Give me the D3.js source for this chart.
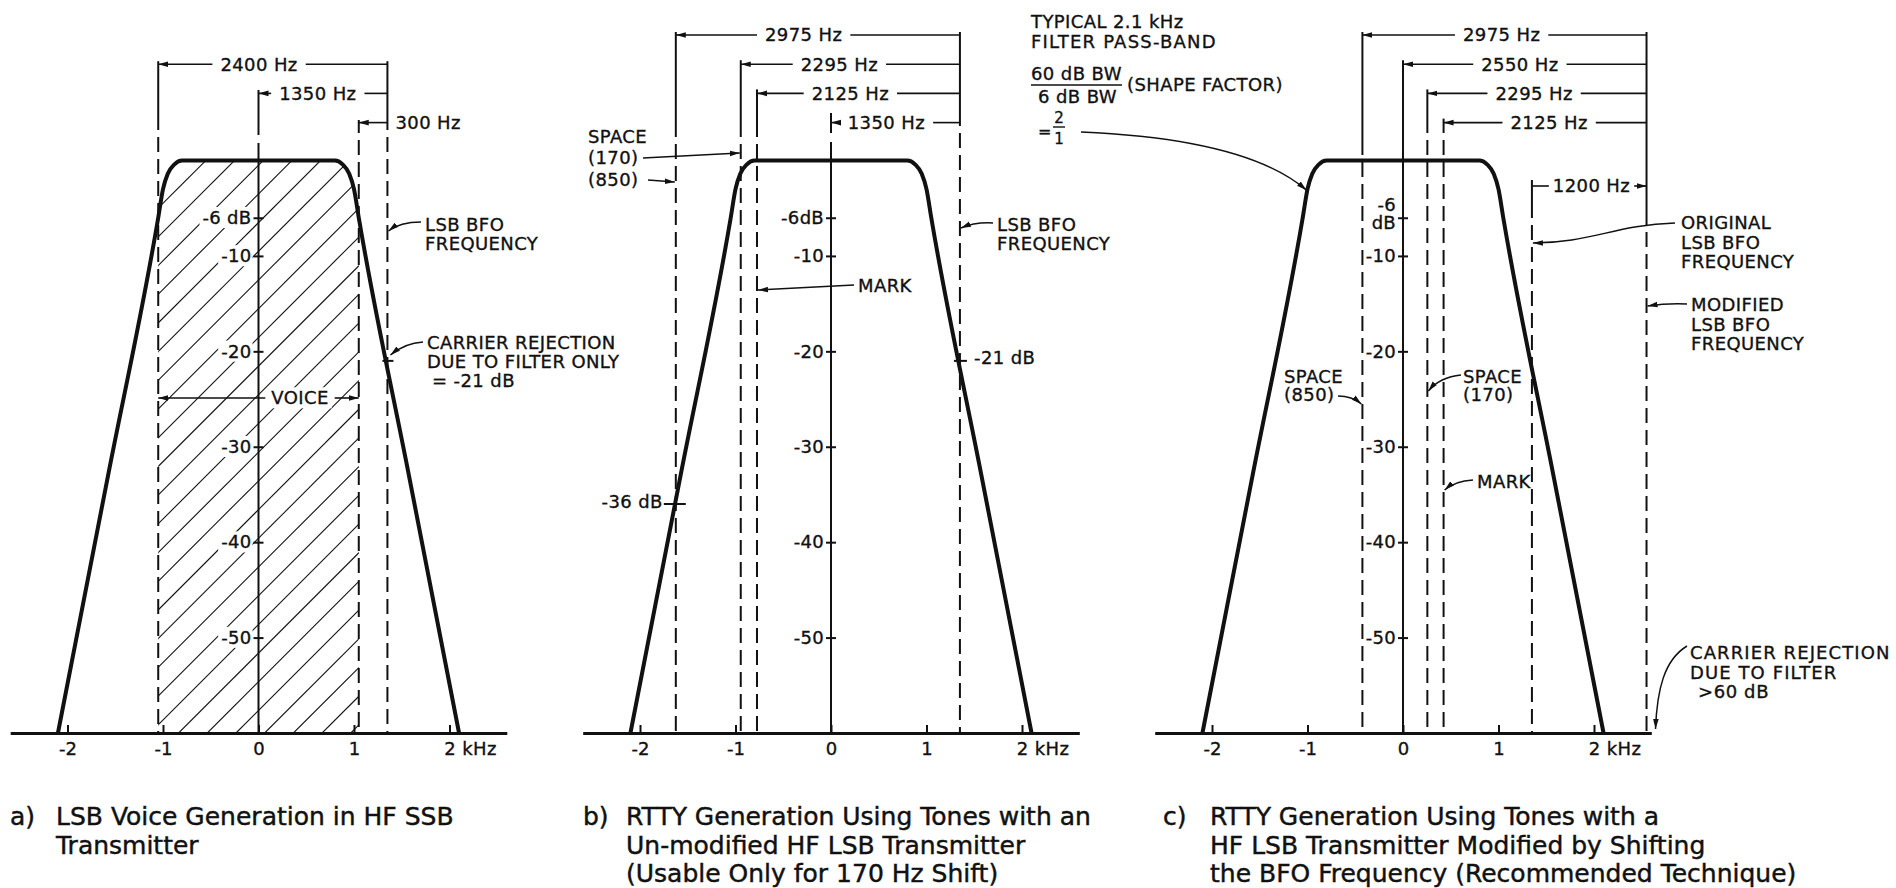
<!DOCTYPE html>
<html><head><meta charset="utf-8">
<script src="https://cdn.jsdelivr.net/npm/d3@7"></script>
<style>
body{margin:0;background:#fff;}
svg{display:block;background:#fff;}
text{font-family:"DejaVu Sans",sans-serif;fill:#111;stroke:#111;stroke-width:0.35px;}
</style></head><body>
<svg id="chart" width="1896" height="888"></svg>
<script>
// ---------------- data ----------------
// filter response (kHz relative to carrier, dB)
const filterKHz = [-2.1, -1.575, -1.05, -1.0, -0.95, -0.88, -0.8, 0.8, 0.88, 0.95, 1.0, 1.05, 1.575, 2.1];
const filterDB  = [-60, -33, -6, -3, -1.4, -0.4, 0, 0, -0.4, -1.4, -3, -6, -33, -60];
const kHzTicks = [-2, -1, 0, 1, 2];
const kHzTickLabels = ["-2", "-1", "0", "1", "2 kHz"];
const dbTicks = [-6, -10, -20, -30, -40, -50];
const dbLabelsA = ["-6 dB", "-10", "-20", "-30", "-40", "-50"];
const dbLabelsB = ["-6dB", "-10", "-20", "-30", "-40", "-50"];
const dbLabelsC = ["-6 dB", "-10", "-20", "-30", "-40", "-50"];
// reference frequencies (Hz)
const linesA = [-1050, 1050, 1350];          // voice band edges, LSB BFO
const linesB = [-1625, -945, -775, 1350];    // space 850, space 170, mark, LSB BFO
const linesC = [-425, 255, 425, 1350, 2550]; // space 850, space 170, mark, original BFO, modified BFO
// dimension lines (from Hz -> BFO)
const dimsAFrom = [-1050, 0];
const dimsALabels = ["2400 Hz", "1350 Hz"];
const dimsBFrom = [-1625, -945, -775, 0];
const dimsBLabels = ["2975 Hz", "2295 Hz", "2125 Hz", "1350 Hz"];
const dimsCFrom = [-425, 0, 255, 425];
const dimsCLabels = ["2975 Hz", "2550 Hz", "2295 Hz", "2125 Hz"];
const rejectionA = -21;   // dB at BFO, panel a
const rejectionB = -21;
const space850B = -36;
const captions = [
  ["a)", "LSB Voice Generation in HF SSB", "Transmitter"],
  ["b)", "RTTY Generation Using Tones with an", "Un-modified HF LSB Transmitter", "(Usable Only for 170 Hz Shift)"],
  ["c)", "RTTY Generation Using Tones with a", "HF LSB Transmitter Modified by Shifting", "the BFO Frequency (Recommended Technique)"]
];

// ---------------- layout ----------------
const svg = d3.select("#chart");
const defs = svg.append("defs");
defs.append("marker").attr("id", "ah").attr("viewBox", "0 0 10 10")
  .attr("refX", 10).attr("refY", 5).attr("markerWidth", 10).attr("markerHeight", 10)
  .attr("markerUnits", "userSpaceOnUse").attr("orient", "auto-start-reverse")
  .append("path").attr("d", "M0,2.2 L10,5 L0,7.8 Z").attr("fill", "#111");

const INK = "#111";
const DASH = "15,7";
const yScale = d3.scaleLinear().domain([0, -60]).range([160.5, 733]);
const BASE = yScale(-60);
const centers = [258.5, 831, 1403];
const xScaleFor = cx => d3.scaleLinear().domain([-2.6, 2.6]).range([cx - 248.3, cx + 248.3]);
const rowY = i => 35 + 29.2 * i;
const pts = filterKHz.map((k, i) => [k, filterDB[i]]);

function label(g, x, y, s, opt = {}) {
  return g.append("text").attr("x", x).attr("y", y).attr("dy", "0.35em")
    .attr("font-size", opt.size || 18).attr("text-anchor", opt.anchor || "start")
    .attr("letter-spacing", opt.ls !== undefined ? opt.ls : 0.4)
    .text(s);
}
function seg(g, x1, y1, x2, y2, w, dash) {
  const l = g.append("line").attr("x1", x1).attr("y1", y1).attr("x2", x2).attr("y2", y2)
    .attr("stroke", INK).attr("stroke-width", w || 1.6);
  if (dash) l.attr("stroke-dasharray", dash);
  return l;
}
function leader(g, d) {
  return g.append("path").attr("d", d).attr("fill", "none").attr("stroke", INK)
    .attr("stroke-width", 1.5).attr("marker-end", "url(#ah)");
}
function dimLine(g, xa, xb, y, text, frac, arrowL, arrowR, gap, bg) {
  const cx = xa + (xb - xa) * frac;
  const t = label(g, cx, y, text, { anchor: "middle" });
  const w = t.node().getComputedTextLength();
  const gp = gap === undefined ? 8 : gap;
  if (bg) {
    const b = t.node().getBBox();
    g.insert("rect", () => t.node()).attr("x", b.x - 3).attr("y", b.y).attr("width", b.width + 6)
      .attr("height", b.height).attr("fill", "#fff").attr("stroke", "none");
  }
  const l1 = seg(g, xa, y, cx - w / 2 - gp, y, 1.6);
  if (arrowL) l1.attr("marker-start", "url(#ah)");
  const l2 = seg(g, cx + w / 2 + gp, y, xb, y, 1.6);
  if (arrowR) l2.attr("marker-end", "url(#ah)");
}
function drawXAxis(g, x) {
  const ax = d3.axisBottom(x).tickValues(kHzTicks).tickFormat((d, i) => kHzTickLabels[i])
    .tickSize(-8).tickSizeOuter(0).tickPadding(9);
  const ag = g.append("g").attr("transform", `translate(0,${BASE})`).call(ax)
    .attr("font-family", null).attr("font-size", null);
  ag.select(".domain").attr("stroke", INK).attr("stroke-width", 3);
  ag.selectAll(".tick line").attr("stroke", INK).attr("stroke-width", 2);
  ag.selectAll(".tick text").attr("font-size", 18).attr("fill", INK);
  ag.selectAll(".tick text").filter((d, i) => i === kHzTicks.length - 1)
    .attr("text-anchor", "start").attr("x", -5.7).attr("letter-spacing", 0.4);
}
function drawYAxis(g, xc, labels, twoLine, whiteBg) {
  const ax = d3.axisLeft(yScale).tickValues(dbTicks).tickFormat((d, i) => labels[i])
    .tickSize(10).tickPadding(2);
  const ag = g.append("g").attr("transform", `translate(${xc + 5},0)`).call(ax)
    .attr("font-family", null).attr("font-size", null);
  ag.select(".domain").remove();
  ag.selectAll(".tick line").attr("stroke", INK).attr("stroke-width", 2);
  ag.selectAll(".tick text").attr("font-size", 18).attr("fill", INK).attr("letter-spacing", 0.3);
  if (twoLine) {
    ag.selectAll(".tick text").filter((d, i) => i === 0).each(function () {
      const t = d3.select(this), parts = labels[0].split(" ");
      t.text(null);
      t.append("tspan").attr("x", -12).attr("dy", "-0.4em").text(parts[0]);
      t.append("tspan").attr("x", -12).attr("dy", "1.0em").text(parts[1]);
    });
  }
  if (whiteBg) {
    ag.selectAll(".tick").each(function () {
      const t = d3.select(this).select("text").node();
      const b = t.getBBox();
      d3.select(this).insert("rect", "text").attr("x", b.x - 3).attr("y", b.y)
        .attr("width", b.width + 4).attr("height", b.height).attr("fill", "#fff");
    });
  }
}
// extension line: solid from top to solidEnd, dashed from there down to the baseline
function extLine(g, x, top, solidEnd) {
  seg(g, x, top, x, solidEnd, 2);
  seg(g, x, solidEnd + 7, x, BASE, 2, DASH);
}
function filterCurve(g, x) {
  const line = d3.line().x(d => x(d[0])).y(d => yScale(d[1])).curve(d3.curveMonotoneX);
  g.append("path").attr("d", line(pts)).attr("fill", "none").attr("stroke", INK)
    .attr("stroke-width", 4).attr("stroke-linejoin", "round");
}
function caption(lines, x0, x1) {
  const ys = [816, 845, 873];
  svg.append("text").attr("x", x0).attr("y", ys[0]).attr("dy", "0.35em").attr("font-size", 25)
    .style("stroke-width", "0.45px").text(lines[0]);
  lines.slice(1).forEach((s, i) =>
    svg.append("text").attr("x", x1).attr("y", ys[i]).attr("dy", "0.35em").attr("font-size", 25)
      .style("stroke-width", "0.45px").text(s));
}

// ================= Panel a =================
{
  const g = svg.append("g");
  const x = xScaleFor(centers[0]);
  const hz = v => x(v / 1000);
  // hatch (voice band under filter)
  const area = d3.area().x(d => x(d[0])).y0(BASE).y1(d => yScale(d[1])).curve(d3.curveMonotoneX);
  defs.append("clipPath").attr("id", "clipFilterA").append("path").attr("d", area(pts));
  defs.append("clipPath").attr("id", "clipVoiceA").append("rect")
    .attr("x", hz(linesA[0])).attr("y", 100).attr("width", hz(linesA[1]) - hz(linesA[0])).attr("height", BASE - 100);
  const hg = g.append("g").attr("clip-path", "url(#clipVoiceA)").append("g").attr("clip-path", "url(#clipFilterA)");
  const hs = 28.7, hx0 = hz(linesA[0]) + 20.4;
  for (let k = -24; k <= 8; k++) {
    const xb = hx0 + k * hs;
    seg(hg, xb, BASE, xb + 640, BASE - 640, 1.1);
  }
  // reference lines
  extLine(g, hz(linesA[0]), rowY(1) - 3, 130);
  extLine(g, hz(linesA[1]), 120, 133);
  extLine(g, hz(linesA[2]), rowY(1) - 3, 130);
  seg(g, x(0), 90, x(0), 135, 2);
  seg(g, x(0), 143, x(0), BASE, 2);
  drawYAxis(g, x(0), dbLabelsA, false, true);
  // voice dimension
  const vx0 = hz(linesA[0]), vx1 = hz(linesA[1]);
  dimLine(g, vx0, vx1, 398, "VOICE", (300 - vx0) / (vx1 - vx0), true, true, 6, true);
  drawXAxis(g, x);
  filterCurve(g, x);
  // dimensions
  dimsAFrom.forEach((f, i) => dimLine(g, hz(f), hz(linesA[2]), rowY(i + 1), dimsALabels[i], i === 0 ? 0.44 : 0.46, true, false));
  const y300 = rowY(3);
  seg(g, hz(linesA[2]), y300, hz(linesA[1]), y300, 1.6).attr("marker-end", "url(#ah)");
  label(g, hz(linesA[2]) + 8, y300, "300 Hz");
  // BFO label
  label(g, 425, 225, "LSB  BFO");
  label(g, 425, 244, "FREQUENCY");
  leader(g, `M421,222 Q400,222 ${hz(linesA[2]) + 1},231`);
  // carrier rejection
  seg(g, hz(linesA[2]) - 5, yScale(rejectionA), hz(linesA[2]) + 6, yScale(rejectionA), 2);
  label(g, 427, 343, "CARRIER REJECTION");
  label(g, 427, 362, "DUE TO FILTER ONLY");
  label(g, 432, 381, "= -21 dB");
  leader(g, `M423,342 Q405,343 ${hz(linesA[2]) + 3},355`);
  caption(captions[0], 10, 56);
}

// ================= Panel b =================
{
  const g = svg.append("g");
  const x = xScaleFor(centers[1]);
  const hz = v => x(v / 1000);
  extLine(g, hz(linesB[0]), rowY(0) - 3, 137);
  extLine(g, hz(linesB[1]), rowY(1) - 4, 137);
  extLine(g, hz(linesB[2]), rowY(2) - 4, 137);
  extLine(g, hz(linesB[3]), rowY(0) - 3, 126);
  seg(g, x(0), 113, x(0), 133, 2);
  seg(g, x(0), 142, x(0), BASE, 2);
  drawYAxis(g, x(0), dbLabelsB, false, false);
  drawXAxis(g, x);
  filterCurve(g, x);
  const fr = [0.45, 0.45, 0.46, 0.43];
  dimsBFrom.forEach((f, i) => dimLine(g, hz(f), hz(linesB[3]), rowY(i), dimsBLabels[i], fr[i], true, false));
  // space labels
  label(g, 588, 137, "SPACE");
  label(g, 588, 158, "(170)");
  label(g, 588, 180, "(850)");
  leader(g, `M643,158 L${hz(linesB[1]) - 1},153`);
  leader(g, `M648,180 L${hz(linesB[0]) - 1},182`);
  // mark
  label(g, 858, 286, "MARK");
  leader(g, `M854,285 L${hz(linesB[2]) + 1},290`);
  // BFO
  label(g, 997, 225, "LSB  BFO");
  label(g, 997, 244, "FREQUENCY");
  leader(g, `M993,223 Q975,222 ${hz(linesB[3]) + 1},228`);
  // -21 dB
  seg(g, hz(linesB[3]) - 6, yScale(rejectionB), hz(linesB[3]) + 7, yScale(rejectionB), 2);
  label(g, 974, 358, "-21 dB");
  // -36 dB
  seg(g, hz(linesB[0]) - 12, yScale(space850B), hz(linesB[0]) + 10, yScale(space850B), 2);
  label(g, hz(linesB[0]) - 13, yScale(space850B) - 2, "-36 dB", { anchor: "end" });
  caption(captions[1], 583, 626);
}

// ================= Panel c =================
{
  const g = svg.append("g");
  const x = xScaleFor(centers[2]);
  const hz = v => x(v / 1000);
  extLine(g, hz(linesC[0]), rowY(0) - 3, 155);
  extLine(g, hz(linesC[1]), rowY(2) - 4, 133);
  extLine(g, hz(linesC[2]), rowY(3) - 4, 133);
  extLine(g, hz(linesC[3]), 180, 218);
  extLine(g, hz(linesC[4]), rowY(0) - 3, 225);
  seg(g, x(0), rowY(1) - 4, x(0), BASE, 2);
  drawYAxis(g, x(0), dbLabelsC, true, false);
  drawXAxis(g, x);
  filterCurve(g, x);
  const fr = [0.49, 0.48, 0.487, 0.52];
  dimsCFrom.forEach((f, i) => dimLine(g, hz(f), hz(linesC[4]), rowY(i), dimsCLabels[i], fr[i], true, false));
  dimLine(g, hz(linesC[3]), hz(linesC[4]), 186, "1200 Hz", 0.52, false, true, 4);
  // shape factor block
  label(g, 1031, 22, "TYPICAL 2.1 kHz");
  label(g, 1031, 42, "FILTER PASS-BAND", { ls: 1.2 });
  label(g, 1031, 74, "60 dB BW");
  seg(g, 1031, 85, 1122, 85, 1.6);
  label(g, 1038, 97, "6 dB BW");
  label(g, 1127, 85, "(SHAPE FACTOR)");
  label(g, 1038, 131, "=", { size: 16 });
  label(g, 1059, 118, "2", { size: 15, anchor: "middle", ls: 0 });
  seg(g, 1053, 127, 1065, 127, 1.4);
  label(g, 1059, 139, "1", { size: 15, anchor: "middle", ls: 0 });
  leader(g, `M1081,132 Q1247,139 ${x(-1.0) - 1},${yScale(-3) + 1}`);
  // original BFO
  label(g, 1681, 223, "ORIGINAL");
  label(g, 1681, 243, "LSB  BFO");
  label(g, 1681, 262, "FREQUENCY");
  leader(g, `M1675,223 C1615,225 1590,243 ${hz(linesC[3]) + 1},243`);
  // modified BFO
  label(g, 1691, 305, "MODIFIED");
  label(g, 1691, 325, "LSB  BFO");
  label(g, 1691, 344, "FREQUENCY");
  leader(g, `M1687,304 Q1668,303 ${hz(linesC[4]) + 1},306`);
  // space / mark
  label(g, 1284, 377, "SPACE");
  label(g, 1284, 395, "(850)");
  leader(g, `M1338,396 Q1352,396 ${hz(linesC[0]) - 1},404`);
  label(g, 1463, 377, "SPACE");
  label(g, 1463, 395, "(170)");
  leader(g, `M1461,375 Q1440,377 ${hz(linesC[1]) + 1},391`);
  label(g, 1477, 482, "MARK");
  leader(g, `M1473,480 Q1455,481 ${hz(linesC[2]) + 1},490`);
  // carrier rejection
  label(g, 1690, 653, "CARRIER REJECTION", { ls: 1.1 });
  label(g, 1690, 673, "DUE TO FILTER", { ls: 1.1 });
  label(g, 1698, 692, ">60 dB", { ls: 0.6 });
  leader(g, `M1687,646 C1664,660 1657,690 ${hz(linesC[4]) + 9},${BASE - 4}`);
  caption(captions[2], 1163, 1210);
}
</script>
</body></html>
